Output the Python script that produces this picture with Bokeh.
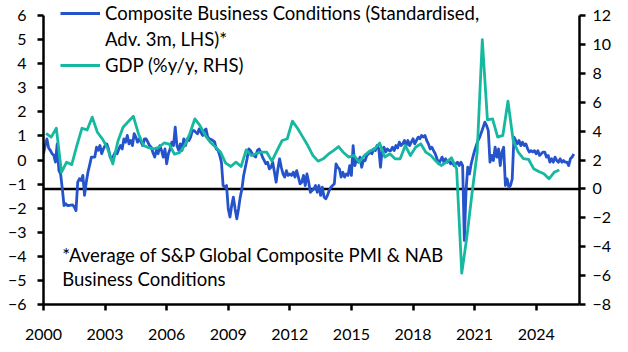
import numpy as np
from bokeh.plotting import figure
from bokeh.models import (Range1d, LinearAxis, FixedTicker, Label, Legend,
                          LegendItem, Span)
from bokeh.embed import file_html
from bokeh.resources import INLINE

FONT = "Lato"
BLUE = "#2453cc"
TEAL = "#17b8a0"

# Composite Business Conditions (standardised, advanced 3m, LHS), monthly from Jan 2000
bc_2000 = [0.26, 0.6, 0.88, 0.5, 0.4, 0.26, 0.2, -0.09, 0.67, -0.44, -0.58, -1.2]
bc_2001 = [-1.89, -1.82, -1.89, -1.89, -1.87, -1.86, -1.95, -2.1, -0.92, -0.78, -0.85, -0.64]
bc_2002 = [-1.47, -0.92, -0.5, -0.2, 0.12, 0.12, 0.12, 0.53, 0.4, 0.6, 0.26, 0.46]
bc_2003 = [0.6, 0.67, 0.46, 0.12, -0.02, 0.19, 0.33, 0.26, 0.45, 0.6, 0.46, 0.88]
bc_2004 = [0.74, 1.02, 0.67, 0.81, 0.6, 1.09, 0.95, 0.74, 0.88, 0.75, 0.6, 0.88]
bc_2005 = [0.88, 0.74, 0.6, 0.53, 0.3, 0.12, 0.4, 0.26, 0.6, 0.4, 0.12, 0.46]
bc_2006 = [-0.16, 0.26, 0.46, 0.74, 0.6, 1.36, 0.6, 0.4, 0.67, 0.4, 0.88, 0.6]
bc_2007 = [0.88, 0.81, 0.95, 1.22, 1.22, 1.15, 1.09, 1.29, 1.15, 1.02, 1.22, 1.29]
bc_2008 = [0.95, 0.88, 0.85, 0.81, 0.75, 0.46, 0.4, 0.19, -0.09, -1.06, -1.13, -1.06]
bc_2009 = [-2.03, -2.37, -1.89, -1.54, -2.03, -2.44, -2.03, -1.54, -1.2, -0.64, -0.3, 0.05]
bc_2010 = [0.46, 0.39, 0.26, 0.19, 0.12, 0.39, 0.46, 0.33, 0.12, -0.02, -0.16, -0.09]
bc_2011 = [-0.37, -0.3, -0.09, -0.51, -0.92, -0.37, 0.05, -0.3, -0.58, -0.71, -0.44, -0.64]
bc_2012 = [-0.58, -0.64, -0.51, -0.71, -0.44, -0.71, -0.99, -0.92, -0.64, -1.06, -0.58, -0.92]
bc_2013 = [-1.34, -1.27, -1.2, -1.06, -1.34, -1.06, -1.47, -1.13, -1.54, -1.61, -1.47, -1.27]
bc_2014 = [-1.13, -1.06, -0.99, -0.16, -0.3, -0.37, -0.71, -0.51, -0.71, -0.58, -0.64, -0.23]
bc_2015 = [-0.64, 0.6, -0.23, 0.05, -0.09, 0.12, -0.3, -0.02, -0.02, 0.19, 0.26, 0.33]
bc_2016 = [0.26, 0.46, 0.39, 0.6, 0.46, -0.3, 0.46, 0.53, 0.33, 0.46, 0.39, 0.39]
bc_2017 = [0.53, 0.39, 0.6, 0.5, 0.74, 0.6, 0.67, 0.81, 0.6, 0.81, 0.6, 0.74]
bc_2018 = [0.88, 0.67, 0.81, 0.95, 0.88, 1.02, 0.95, 1.02, 0.81, 0.67, 0.46, 0.53]
bc_2019 = [0.39, 0.26, 0.05, -0.16, -0.02, 0.12, -0.09, 0.05, -0.09, -0.02, -0.16, -0.09]
bc_2020 = [-0.23, -0.16, -0.09, -0.23, -0.09, -0.23, -3.34, -1.27, -0.3, -0.58, -0.16, 0.12]
bc_2021 = [0.39, 0.6, 0.81, 0.95, 1.15, 1.36, 1.57, 1.43, 1.22, -0.09, 0.19, -0.02]
bc_2022 = [0.53, 0.12, 0.46, -0.23, 0.33, 0.53, -1.06, -0.78, -1.13, -1.06, -0.78, 0.95]
bc_2023 = [0.81, 0.67, 0.81, 0.6, 0.74, 0.6, 0.67, 0.46, 0.33, 0.39, 0.33, 0.39]
bc_2024 = [0.26, 0.39, 0.19, 0.26, 0.33, 0.33, 0.12, 0.19, -0.09, 0.05, -0.09, 0.12]
bc_2025 = [-0.02, -0.09, 0.05, -0.09, -0.02, -0.09, -0.09, -0.23, 0.05, 0.12, 0.25]

# GDP (%y/y, RHS), quarterly from 2000 Q1
gdp_2000_04 = [3.85, 3.58, 4.2, 1.15, 1.85, 1.68, 3.0, 4.2, 4.08, 4.97,
               3.92, 3.45, 2.8, 1.73, 3.3, 4.27, 4.65, 5.03, 3.82, 3.0]
gdp_2005_09 = [2.85, 2.77, 2.88, 3.18, 3.1, 2.4, 2.5, 3.0, 3.82, 4.85,
               4.38, 3.7, 3.23, 2.9, 2.54, 1.78, 1.55, 1.85, 1.55, 2.7]
gdp_2010_14 = [2.31, 2.45, 2.54, 2.54, 1.92, 2.65, 3.35, 3.47, 4.69, 4.2,
               3.6, 3.0, 2.31, 1.92, 2.08, 2.4, 2.65, 2.93, 2.5, 2.2]
gdp_2015_19 = [2.31, 1.85, 2.3, 2.6, 2.77, 3.17, 2.2, 2.43, 2.08, 2.08,
               3.0, 2.31, 2.88, 3.12, 2.54, 2.3, 1.9, 1.62, 1.85, 2.15]
gdp_2020_25 = [1.38, -5.83, -3.3, -0.3, 2.5, 10.33, 4.78, 4.85, 3.58, 3.7,
               6.07, 3.4, 2.54, 2.1, 2.05, 1.4, 1.2, 1.05, 0.7, 1.15, 1.31]

x_ticks = [2000, 2003, 2006, 2009, 2012, 2015, 2018, 2021, 2024]
lhs_ticks = [-6, -5, -4, -3, -2, -1, 0, 1, 2, 3, 4, 5, 6]
rhs_ticks = [-8, -6, -4, -2, 0, 2, 4, 6, 8, 10, 12]

bc_values = (bc_2000 + bc_2001 + bc_2002 + bc_2003 + bc_2004 + bc_2005 + bc_2006
             + bc_2007 + bc_2008 + bc_2009 + bc_2010 + bc_2011 + bc_2012 + bc_2013
             + bc_2014 + bc_2015 + bc_2016 + bc_2017 + bc_2018 + bc_2019 + bc_2020
             + bc_2021 + bc_2022 + bc_2023 + bc_2024 + bc_2025)
gdp_values = gdp_2000_04 + gdp_2005_09 + gdp_2010_14 + gdp_2015_19 + gdp_2020_25

bc_dates = 2000 + np.arange(len(bc_values)) / 12.0
gdp_dates = 2000 + np.arange(len(gdp_values)) / 4.0 + 0.125

# frame: top of canvas down to the x axis; the axes themselves stop at 6 / 12
LHS_TOP = 6 + 15 / 24.08
RHS_TOP = 12 + 15 * 20 / 289.0

p = figure(width=628, height=352, x_range=Range1d(2000, 2026.11),
           y_range=Range1d(-6, LHS_TOP), output_backend="svg", toolbar_location=None,
           min_border_left=43, min_border_right=49, min_border_top=0,
           min_border_bottom=48)
p.extra_y_ranges = {"gdp": Range1d(-8, RHS_TOP)}
p.grid.visible = False
p.outline_line_color = None
p.background_fill_color = "white"
p.border_fill_color = "white"


def style_axis(ax, standoff):
    ax.axis_line_width = 2.5
    ax.axis_line_color = "black"
    ax.major_tick_line_width = 2.5
    ax.major_tick_line_color = "black"
    ax.major_tick_out = 6
    ax.major_tick_in = 0
    ax.minor_tick_line_color = None
    ax.major_label_text_font = FONT
    ax.major_label_text_font_size = "16px"
    ax.major_label_text_color = "black"
    ax.major_label_standoff = standoff


p.xaxis.ticker = FixedTicker(ticks=x_ticks)
style_axis(p.xaxis[0], 18)
p.yaxis.ticker = FixedTicker(ticks=lhs_ticks)
style_axis(p.yaxis[0], 11)
p.yaxis[0].bounds = (-6, 6)

rax = LinearAxis(y_range_name="gdp", ticker=FixedTicker(ticks=rhs_ticks))
style_axis(rax, 7)
rax.bounds = (-8, 12)
p.add_layout(rax, "right")

zero = Span(location=0, dimension="width", y_range_name="gdp",
            line_color="black", line_width=2.5, level="underlay")
p.add_layout(zero)

r_bc = p.line(bc_dates, bc_values, line_color=BLUE, line_width=2.8,
              line_join="round")
r_gdp = p.line(gdp_dates, gdp_values, line_color=TEAL, line_width=2.8,
               line_join="round", y_range_name="gdp")
r_blank = p.line(x=[], y=[], line_alpha=0)

legend = Legend(items=[
    LegendItem(label="Composite Business Conditions (Standardised,", renderers=[r_bc]),
    LegendItem(label="Adv. 3m, LHS)*", renderers=[r_blank]),
    LegendItem(label="GDP (%y/y, RHS)", renderers=[r_gdp]),
], location=(17, 227))
legend.glyph_width = 40
legend.glyph_height = 24
legend.label_height = 24
legend.label_standoff = 5
legend.spacing = 2
legend.padding = 0
legend.margin = 0
legend.border_line_alpha = 0
legend.background_fill_alpha = 0
legend.label_text_font = FONT
legend.label_text_font_size = "18.5px"
legend.label_text_color = "black"
legend.click_policy = "none"
p.add_layout(legend)

for yy, txt in [(-3.95, "*Average of S&P Global Composite PMI & NAB"),
                (-4.96, "Business Conditions")]:
    p.add_layout(Label(x=2000.91, y=yy, text=txt, text_baseline="middle",
                       text_font=FONT, text_font_size="18.5px", text_color="black"))

open("out.html", "w").write(file_html(p, INLINE))
